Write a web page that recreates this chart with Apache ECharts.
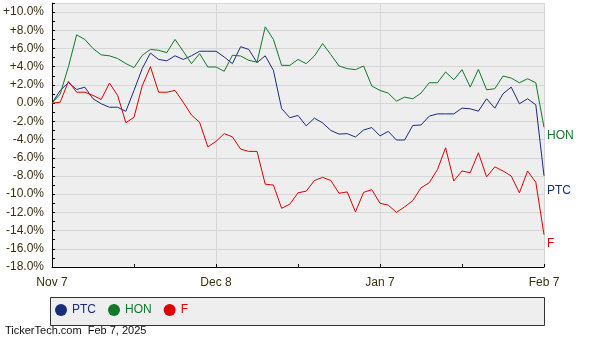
<!DOCTYPE html>
<html>
<head>
<meta charset="utf-8">
<script src="https://cdn.jsdelivr.net/npm/echarts@6/dist/echarts.min.js"></script>
<style>
html,body{margin:0;padding:0;background:#fff;}
#chart{width:600px;height:340px;}
</style>
</head>
<body>
<div id="chart"></div>
<script>
// ---- data (percent change since Nov 7) ----
const xTickLabels = ['Nov 7', 'Dec 8', 'Jan 7', 'Feb 7'];
const seriesNames = ['PTC', 'HON', 'F'];
const ptc = [0, 1.4, 2.25, 1.5, 1.75, 0.48, -0.07, -0.45, -0.45, -0.9,
  1.4, 3.8, 5.5, 4.8, 4.65, 5.2, 4.8, 5.2, 5.7, 5.7,
  5.7, 5.07, 4.34, 6.2, 5.9, 4.45, 5.2, 3.6, -0.6, -1.6,
  -1.35, -2.5, -1.65, -2.17, -3.0, -3.4, -3.35, -3.72, -2.95, -2.68,
  -3.6, -3.1, -4.05, -4.05, -2.45, -2.4, -1.43, -1.18, -1.18, -1.18,
  -0.55, -0.62, -0.88, 0.48, -0.55, 1.03, 1.76, -0.07, 0.48, -0.18,
  -7.98];
const hon = [0, 1.0, 4.0, 7.5, 7.0, 6.0, 5.3, 5.2, 4.9, 4.35,
  3.9, 5.25, 5.9, 5.8, 5.55, 7.0, 5.7, 4.34, 5.44, 3.97,
  3.97, 3.5, 5.26, 5.18, 4.7, 4.5, 8.38, 7.0, 4.15, 4.15,
  4.8, 4.34, 5.18, 6.54, 5.33, 4.08, 3.79, 3.68, 4.08, 1.88,
  1.4, 1.1, 0.22, 0.66, 0.48, 1.1, 2.24, 2.24, 3.42, 2.57,
  3.68, 1.76, 3.71, 1.47, 1.58, 2.98, 2.76, 2.24, 2.68, 2.24,
  -2.65];
const f = [0, 0.1, 2.4, 1.2, 1.2, 0.85, 0.4, 2.2, 0.85, -2.15,
  -1.55, 1.9, 4.0, 1.2, 1.2, 1.4, 0.1, -1.3, -2.1, -4.8,
  -4.2, -3.35, -3.7, -5.05, -5.3, -5.3, -8.9, -9.0, -11.55, -11.1,
  -9.85, -9.67, -8.5, -8.15, -8.5, -9.9, -9.75, -11.95, -9.8, -9.5,
  -11.0, -11.2, -12.0, -11.4, -10.7, -9.3, -8.75, -7.3, -4.9, -8.55,
  -7.45, -7.65, -5.45, -8.1, -7.0, -7.45, -8.0, -9.85, -7.45, -8.7,
  -14.45];
const categories = ptc.map((_, i) => String(i));

const colors = {PTC: '#182c7c', HON: '#107a2a', F: '#e00000'};
const labelColor = '#3b2e10';
const font = '"Liberation Sans", Arial, sans-serif';

const chart = echarts.init(document.getElementById('chart'), null, {renderer: 'canvas'});

function mkSeries(name, data, dy) {
  return {
    name: name,
    type: 'line',
    data: data,
    symbol: 'none',
    smooth: false,
    lineStyle: {color: colors[name], width: 1},
    itemStyle: {color: colors[name]},
    emphasis: {disabled: true},
    endLabel: {
      show: true,
      formatter: '{a}',
      color: colors[name],
      fontFamily: font,
      fontSize: 12,
      distance: 3,
      offset: [0, dy]
    },
    z: 3
  };
}

chart.setOption({
  animation: false,
  textStyle: {fontFamily: font},
  grid: {
    left: 50, right: 56, top: 3, bottom: 73,
    show: true, backgroundColor: '#eeeeee', borderWidth: 0
  },
  legend: {
    show: true,
    left: 50, top: 300, padding: [4, 5, 4, 5],
    icon: 'circle',
    itemWidth: 12, itemHeight: 12, itemGap: 12,
    selectedMode: false,
    textStyle: {fontSize: 12, fontFamily: font},
    data: seriesNames.map(n => ({name: n, textStyle: {color: colors[n]}}))
  },
  graphic: [
    {type: 'rect', left: 50, top: 297, shape: {width: 494, height: 28},
     style: {fill: '#eeeeee', stroke: '#333', lineWidth: 1}, z: -1, silent: true},
    {type: 'text', left: 5, top: 325,
     style: {text: 'TickerTech.com  Feb 7, 2025', fill: '#111', font: '11px "Liberation Sans", Arial, sans-serif'}}
  ],
  xAxis: {
    type: 'category',
    data: categories,
    boundaryGap: false,
    axisLine: {onZero: false, lineStyle: {color: '#000', width: 1}},
    axisTick: {show: true, inside: true, length: 3, interval: 9, lineStyle: {color: '#000'}},
    axisLabel: {
      interval: 19, margin: 10, color: labelColor, fontSize: 12, fontFamily: font,
      formatter: (v, idx) => xTickLabels[Math.round(idx / 20)] || ''
    },
    splitLine: {show: true, interval: 19, lineStyle: {color: '#d6d6d6', width: 1}}
  },
  yAxis: {
    type: 'value',
    min: -18, max: 11, interval: 2,
    axisLine: {show: true, onZero: false, lineStyle: {color: '#000', width: 1}},
    axisTick: {show: true, inside: true, length: 3, lineStyle: {color: '#000'}},
    minorTick: {show: true, splitNumber: 2, length: 3, lineStyle: {color: '#000'}},
    axisLabel: {
      margin: 8, color: labelColor, fontSize: 12, fontFamily: font,
      showMaxLabel: false,
      formatter: v => (v > 0 ? '+' : '') + v.toFixed(1) + '%'
    },
    splitLine: {show: true, lineStyle: {color: '#d6d6d6', width: 1}}
  },
  series: [
    mkSeries('PTC', ptc, 15),
    mkSeries('HON', hon, 8),
    mkSeries('F', f, 9)
  ]
});
</script>
</body>
</html>
